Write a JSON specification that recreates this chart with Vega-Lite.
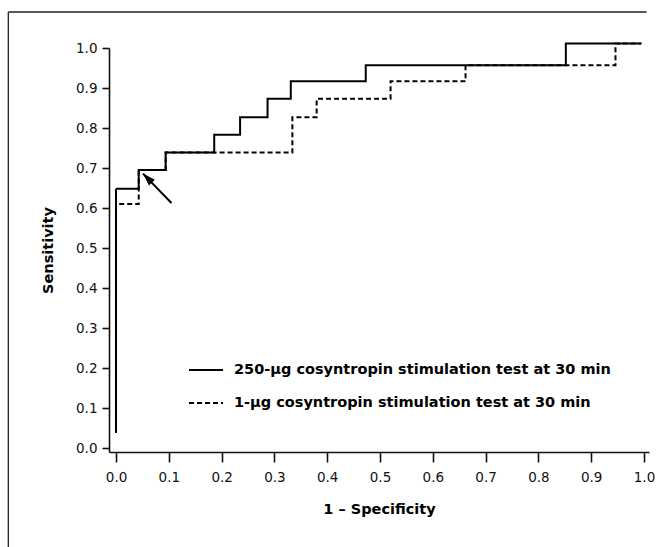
{
  "$schema": "https://vega.github.io/schema/vega-lite/v6.json",
  "width": 540,
  "height": 404,
  "autosize": {"type": "none"},
  "padding": {"left": 109, "top": 48, "right": 8, "bottom": 95},
  "background": "white",
  "config": {
    "view": {"stroke": null},
    "font": "DejaVu Sans",
    "axis": {"grid": false, "domainColor": "#111", "tickColor": "#111", "labelColor": "#111", "titleColor": "#000", "domainWidth": 1.6, "tickWidth": 1.6, "labelFontSize": 13.5, "labelFont": "DejaVu Sans", "titleFont": "DejaVu Sans", "titleFontSize": 14.5, "titleFontWeight": "bold"}
  },
  "datasets": {
    "roc": [
      {"test": "250-μg cosyntropin stimulation test at 30 min", "i": 1, "fpr": 0.0, "sens": 0.038},
      {"test": "250-μg cosyntropin stimulation test at 30 min", "i": 2, "fpr": 0.0, "sens": 0.648},
      {"test": "250-μg cosyntropin stimulation test at 30 min", "i": 3, "fpr": 0.043, "sens": 0.695},
      {"test": "250-μg cosyntropin stimulation test at 30 min", "i": 4, "fpr": 0.094, "sens": 0.739},
      {"test": "250-μg cosyntropin stimulation test at 30 min", "i": 5, "fpr": 0.186, "sens": 0.783},
      {"test": "250-μg cosyntropin stimulation test at 30 min", "i": 6, "fpr": 0.235, "sens": 0.827},
      {"test": "250-μg cosyntropin stimulation test at 30 min", "i": 7, "fpr": 0.287, "sens": 0.873},
      {"test": "250-μg cosyntropin stimulation test at 30 min", "i": 8, "fpr": 0.331, "sens": 0.917},
      {"test": "250-μg cosyntropin stimulation test at 30 min", "i": 9, "fpr": 0.473, "sens": 0.957},
      {"test": "250-μg cosyntropin stimulation test at 30 min", "i": 10, "fpr": 0.852, "sens": 1.011},
      {"test": "250-μg cosyntropin stimulation test at 30 min", "i": 11, "fpr": 0.995, "sens": 1.011},
      {"test": "1-μg cosyntropin stimulation test at 30 min", "i": 1, "fpr": 0.0, "sens": 0.038},
      {"test": "1-μg cosyntropin stimulation test at 30 min", "i": 2, "fpr": 0.0, "sens": 0.61},
      {"test": "1-μg cosyntropin stimulation test at 30 min", "i": 3, "fpr": 0.043, "sens": 0.695},
      {"test": "1-μg cosyntropin stimulation test at 30 min", "i": 4, "fpr": 0.094, "sens": 0.739},
      {"test": "1-μg cosyntropin stimulation test at 30 min", "i": 5, "fpr": 0.334, "sens": 0.827},
      {"test": "1-μg cosyntropin stimulation test at 30 min", "i": 6, "fpr": 0.38, "sens": 0.873},
      {"test": "1-μg cosyntropin stimulation test at 30 min", "i": 7, "fpr": 0.52, "sens": 0.917},
      {"test": "1-μg cosyntropin stimulation test at 30 min", "i": 8, "fpr": 0.662, "sens": 0.957},
      {"test": "1-μg cosyntropin stimulation test at 30 min", "i": 9, "fpr": 0.946, "sens": 1.011},
      {"test": "1-μg cosyntropin stimulation test at 30 min", "i": 10, "fpr": 0.995, "sens": 1.011}
    ],
    "arrow": [{"x": 0.105, "y": 0.6125, "x2": 0.051, "y2": 0.686}],
    "frame": [
      {"x": -0.204, "y": 1.09, "x2": 1.005, "y2": 1.09},
      {"x": -0.204, "y": 1.09, "x2": -0.204, "y2": -0.35}
    ]
  },
  "layer": [
    {
      "data": {"name": "frame"},
      "mark": {"type": "rule", "color": "#222", "strokeWidth": 1.3, "clip": false},
      "encoding": {
        "x": {"field": "x", "type": "quantitative", "scale": {"domain": [-0.0133, 1.0095], "nice": false, "zero": false}},
        "y": {"field": "y", "type": "quantitative", "scale": {"domain": [-0.01, 1.0], "nice": false, "zero": false}},
        "x2": {"field": "x2"},
        "y2": {"field": "y2"}
      }
    },
    {
      "data": {"name": "roc"},
      "transform": [{"filter": "datum.test == '1-μg cosyntropin stimulation test at 30 min'"}],
      "mark": {"type": "line", "interpolate": "step-after", "color": "black", "strokeWidth": 2, "clip": false},
      "encoding": {
        "x": {"field": "fpr", "type": "quantitative", "scale": {"domain": [-0.0133, 1.0095], "nice": false, "zero": false},
          "axis": {"values": [0, 0.1, 0.2, 0.3, 0.4, 0.5, 0.6, 0.7, 0.8, 0.9, 1.0], "format": ".1f", "tickSize": 10, "labelPadding": 8, "title": "1 – Specificity", "titlePadding": 19}},
        "y": {"field": "sens", "type": "quantitative", "scale": {"domain": [-0.01, 1.0], "nice": false, "zero": false},
          "axis": {"values": [0, 0.1, 0.2, 0.3, 0.4, 0.5, 0.6, 0.7, 0.8, 0.9, 1.0], "format": ".1f", "tickSize": 7, "labelPadding": 5, "title": "Sensitivity", "titlePadding": 20}},
        "order": {"field": "i", "type": "quantitative"},
        "strokeDash": {"field": "test", "type": "nominal",
          "scale": {"domain": ["250-μg cosyntropin stimulation test at 30 min", "1-μg cosyntropin stimulation test at 30 min"], "range": [[1, 0], [5, 3]]},
          "legend": {"orient": "none", "legendX": 79, "legendY": 304, "title": null, "symbolType": "stroke", "symbolSize": 1156, "symbolStrokeWidth": 2, "symbolStrokeColor": "black", "labelOffset": 10, "labelFontSize": 14.5, "labelFontWeight": "bold", "labelColor": "#000", "labelFont": "DejaVu Sans", "rowPadding": 8, "labelLimit": 500}}
      }
    },
    {
      "data": {"name": "roc"},
      "transform": [{"filter": "datum.test == '250-μg cosyntropin stimulation test at 30 min'"}],
      "mark": {"type": "line", "interpolate": "step-after", "color": "black", "strokeWidth": 2, "clip": false},
      "encoding": {
        "x": {"field": "fpr", "type": "quantitative", "scale": {"domain": [-0.0133, 1.0095], "nice": false, "zero": false}},
        "y": {"field": "sens", "type": "quantitative", "scale": {"domain": [-0.01, 1.0], "nice": false, "zero": false}},
        "order": {"field": "i", "type": "quantitative"},
        "strokeDash": {"field": "test", "type": "nominal"}
      }
    },
    {
      "data": {"name": "arrow"},
      "mark": {"type": "rule", "color": "black", "strokeWidth": 2, "clip": false},
      "encoding": {
        "x": {"field": "x", "type": "quantitative"},
        "y": {"field": "y", "type": "quantitative"},
        "x2": {"field": "x2"},
        "y2": {"field": "y2"}
      }
    },
    {
      "data": {"name": "arrow"},
      "mark": {"type": "point", "shape": "M0,0L0.42,1.3L-0.42,1.3Z", "filled": true, "color": "black", "opacity": 1, "size": 380, "angle": -45, "clip": false},
      "encoding": {
        "x": {"field": "x2", "type": "quantitative"},
        "y": {"field": "y2", "type": "quantitative"}
      }
    }
  ]
}
